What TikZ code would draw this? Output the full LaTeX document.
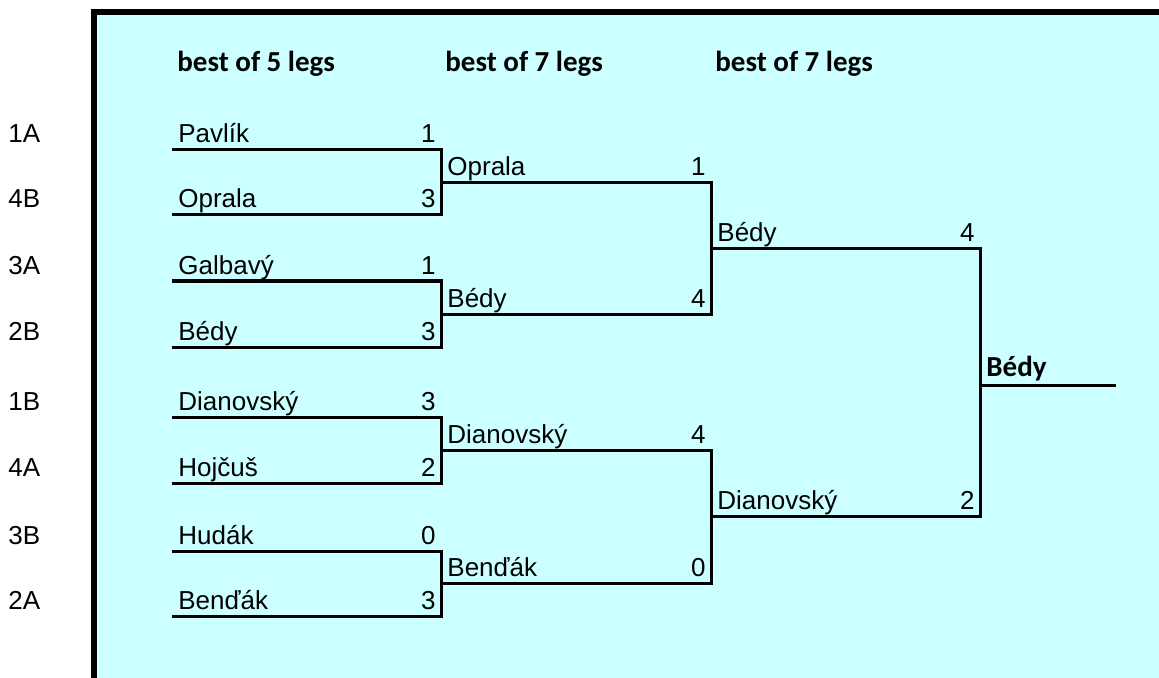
\documentclass[tikz,border=0pt]{standalone}
\usepackage{fontspec}
\setmainfont{Liberation Sans}
\newfontfamily\headfont{Carlito}
\usetikzlibrary{calc}
\definecolor{sheetbg}{RGB}{204,255,255}

\begin{document}
\begin{tikzpicture}[
  x=0.5pt, y=-0.5pt,
  font=\fontsize{13}{15}\selectfont,
  line/.style={line width=1.5pt},
  frame/.style={line width=3pt},
  player/.style={anchor=base west, inner sep=0pt, xshift=3pt, yshift=3.5pt},
  score/.style={anchor=base east, inner sep=0pt, xshift=-2.5pt, yshift=3.5pt},
  seed/.style={anchor=base west, inner sep=0pt},
  head/.style={anchor=base west, inner sep=0pt,
               font=\headfont\bfseries\fontsize{14.5}{17}\selectfont},
]
\useasboundingbox (0,0) rectangle (1159,678);
% sheet
\fill [sheetbg] (94,12) rectangle (1159,678);
\draw [frame] (94,678) -- (94,12) -- (1159,12);
% round headers
\node (h1) [head] at (177,72) {best of 5 legs};
\node (h2) [head] at (445,72) {best of 7 legs};
\node (h3) [head] at (715,72) {best of 7 legs};
% seeds
\node (s1) [seed] at (8,143) {1A};
\node (s2) [seed] at (8,208) {4B};
\node (s3) [seed] at (8,274) {3A};
\node (s4) [seed] at (8,340) {2B};
\node (s5) [seed] at (8,410) {1B};
\node (s6) [seed] at (8,476) {4A};
\node (s7) [seed] at (8,544) {3B};
\node (s8) [seed] at (8,609) {2A};
% round 1 slots
\coordinate (a1) at (172,150); \coordinate (a1e) at (441,150);
\coordinate (a2) at (172,215); \coordinate (a2e) at (441,215);
\coordinate (a3) at (172,281); \coordinate (a3e) at (441,281);
\coordinate (a4) at (172,347); \coordinate (a4e) at (441,347);
\coordinate (a5) at (172,417); \coordinate (a5e) at (441,417);
\coordinate (a6) at (172,483); \coordinate (a6e) at (441,483);
\coordinate (a7) at (172,551); \coordinate (a7e) at (441,551);
\coordinate (a8) at (172,616); \coordinate (a8e) at (441,616);
% round 2 slots
\coordinate (b1) at ($(a1e)!0.5!(a2e)$); \coordinate (b1e) at ($(b1)+(270,0)$);
\coordinate (b2) at ($(a3e)!0.5!(a4e)$); \coordinate (b2e) at ($(b2)+(270,0)$);
\coordinate (b3) at ($(a5e)!0.5!(a6e)$); \coordinate (b3e) at ($(b3)+(270,0)$);
\coordinate (b4) at ($(a7e)!0.5!(a8e)$); \coordinate (b4e) at ($(b4)+(270,0)$);
% round 3 slots
\coordinate (c1) at ($(b1e)!0.5!(b2e)$); \coordinate (c1e) at ($(c1)+(269,0)$);
\coordinate (c2) at ($(b3e)!0.5!(b4e)$); \coordinate (c2e) at ($(c2)+(269,0)$);
% winner slot
\coordinate (d1) at ($(c1e)!0.5!(c2e)+(0,3)$); \coordinate (d1e) at ($(d1)+(136,0)$);
% names and scores
\node (pav)  [player] at (a1) {Pavlík};    \node (pavs)  [score] at (a1e) {1};
\node (opr)  [player] at (a2) {Oprala};    \node (oprs)  [score] at (a2e) {3};
\node (gal)  [player] at (a3) {Galbavý};   \node (gals)  [score] at (a3e) {1};
\node (bed)  [player] at (a4) {Bédy};      \node (beds)  [score] at (a4e) {3};
\node (dia)  [player] at (a5) {Dianovský}; \node (dias)  [score] at (a5e) {3};
\node (hoj)  [player] at (a6) {Hojčuš};    \node (hojs)  [score] at (a6e) {2};
\node (hud)  [player] at (a7) {Hudák};     \node (huds)  [score] at (a7e) {0};
\node (ben)  [player] at (a8) {Benďák};    \node (bens)  [score] at (a8e) {3};
\node (opr2) [player] at (b1) {Oprala};    \node (opr2s) [score] at (b1e) {1};
\node (bed2) [player] at (b2) {Bédy};      \node (bed2s) [score] at (b2e) {4};
\node (dia2) [player] at (b3) {Dianovský}; \node (dia2s) [score] at (b3e) {4};
\node (ben2) [player] at (b4) {Benďák};    \node (ben2s) [score] at (b4e) {0};
\node (bed3) [player] at (c1) {Bédy};      \node (bed3s) [score] at (c1e) {4};
\node (dia3) [player] at (c2) {Dianovský}; \node (dia3s) [score] at (c2e) {2};
\node (champ) [head, xshift=3pt, yshift=4.5pt] at (d1) {Bédy};
% brackets
\draw [line] (a1) -- (a1e) -- (a2e) -- (a2);
\draw [line] (a3) -- (a3e) -- (a4e) -- (a4);
\draw [line] (a5) -- (a5e) -- (a6e) -- (a6);
\draw [line] (a7) -- (a7e) -- (a8e) -- (a8);
\draw [line] (b1) -- (b1e) -- (b2e) -- (b2);
\draw [line] (b3) -- (b3e) -- (b4e) -- (b4);
\draw [line] (c1) -- (c1e) -- (c2e) -- (c2);
\draw [line] (d1) -- (d1e);
\end{tikzpicture}
\end{document}
